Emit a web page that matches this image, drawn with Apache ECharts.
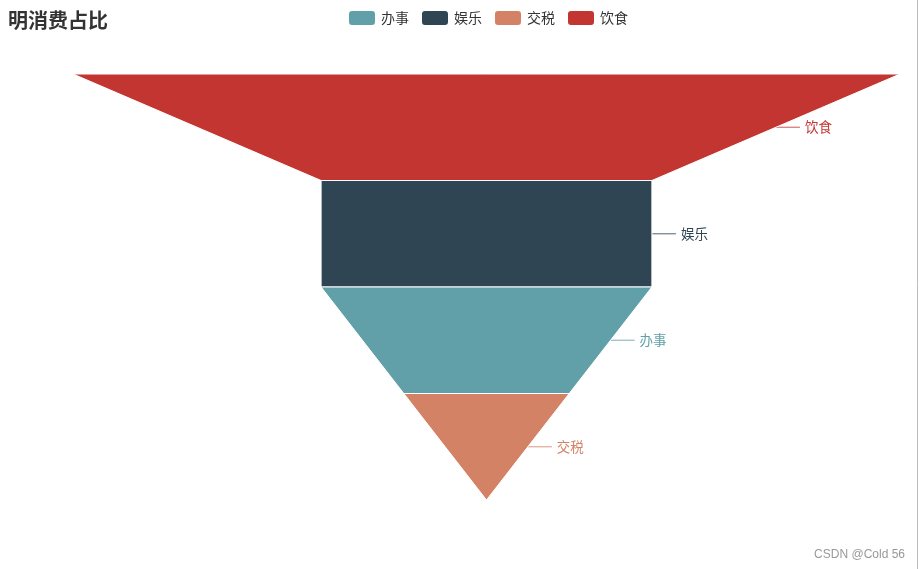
<!DOCTYPE html>
<html>
<head>
<meta charset="utf-8">
<script src="https://cdn.jsdelivr.net/npm/echarts@6/dist/echarts.min.js"></script>
<style>
html,body{margin:0;padding:0;background:#fff;}
#main{width:920px;height:569px;}
</style>
</head>
<body>
<div id="main"></div>
<script>
const titleText = '明消费占比';
const categories = ['饮食', '娱乐', '办事', '交税'];
const values = [50, 20, 20, 10];
const colors = ['#c23531', '#2f4554', '#61a0a8', '#d48265'];
const legendOrder = ['办事', '娱乐', '交税', '饮食'];

const chart = echarts.init(document.getElementById('main'));
const data = categories.map((name, i) => ({
  name: name,
  value: values[i],
  itemStyle: { color: colors[i] },
  label: { color: colors[i] },
  labelLine: { lineStyle: { color: colors[i], opacity: 0.7 } }
}));

chart.setOption({
  animation: false,
  color: colors,
  title: {
    text: titleText,
    left: 3,
    top: 5,
    textStyle: { fontSize: 20, fontWeight: 'bold', color: '#333', fontFamily: 'Noto Sans CJK SC' }
  },
  legend: {
    data: legendOrder,
    left: 342,
    top: 4,
    itemWidth: 28,
    itemHeight: 16,
    itemGap: 11,
    icon: 'roundRect',
    textStyle: { fontSize: 14, color: '#333', fontFamily: 'Noto Sans CJK SC' }
  },
  series: [{
    type: 'funnel',
    left: 73,
    top: 74,
    width: 827,
    height: 426,
    min: 0,
    max: 50,
    gap: 0,
    sort: 'descending',
    label: { show: true, position: 'outside', fontSize: 13.5, fontFamily: 'Noto Sans CJK SC' },
    labelLine: { show: true, length: 24, lineStyle: { width: 1.2 } },
    itemStyle: { borderColor: '#fff', borderWidth: 1 },
    data: data
  }],
  graphic: [
    {
      type: 'text',
      right: 15,
      bottom: 8,
      style: { text: 'CSDN @Cold 56', fill: '#999', fontSize: 12, fontFamily: 'Liberation Sans' }
    },
    {
      type: 'line',
      shape: { x1: 917.5, y1: 0, x2: 917.5, y2: 569 },
      style: { stroke: '#bbb', lineWidth: 1 }
    }
  ]
});
</script>
</body>
</html>
